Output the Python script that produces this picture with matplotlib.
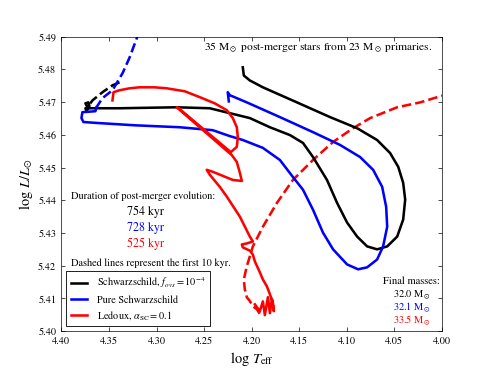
import matplotlib
matplotlib.use("Agg")
import matplotlib.pyplot as plt

plt.rcParams['font.family'] = ['STIXGeneral', 'DejaVu Serif']
plt.rcParams['mathtext.fontset'] = 'stix'

# ---- data (log Teff, log L) ----
black_dash_T = [4.3389, 4.3463, 4.3568, 4.3673, 4.3726]
black_dash_L = [5.4760, 5.4751, 5.4730, 5.4705, 5.4684]
black_T = [4.3726, 4.3747, 4.3716, 4.3705, 4.3737, 4.3747, 4.3684, 4.3389, 4.2788, 4.2440,
           4.2230, 4.2019, 4.1808, 4.1597, 4.1460, 4.1355, 4.1208, 4.1102, 4.0997, 4.0891,
           4.0786, 4.0681, 4.0575, 4.0470, 4.0407, 4.0386, 4.0407, 4.0459, 4.0544, 4.0681,
           4.0891, 4.1176, 4.1524, 4.1882, 4.2019, 4.2082, 4.2093]
black_L = [5.4684, 5.4696, 5.4699, 5.4687, 5.4672, 5.4681, 5.4681, 5.4681, 5.4684, 5.4681,
           5.4666, 5.4651, 5.4623, 5.4599, 5.4575, 5.4532, 5.4462, 5.4392, 5.4332, 5.4289,
           5.4259, 5.4250, 5.4259, 5.4289, 5.4341, 5.4402, 5.4453, 5.4502, 5.4544, 5.4584,
           5.4620, 5.4654, 5.4699, 5.4745, 5.4766, 5.4781, 5.4806]

blue_dash_T = [4.3178, 4.3283, 4.3357, 4.3463, 4.3568, 4.3631]
blue_dash_L = [5.4918, 5.4836, 5.4788, 5.4736, 5.4712, 5.4684]
blue_T = [4.3631, 4.3642, 4.3779, 4.3789, 4.3768, 4.3621, 4.3231, 4.2757, 4.2409, 4.2230,
          4.2093, 4.1882, 4.1703, 4.1566, 4.1460, 4.1355, 4.1250, 4.1144, 4.0997, 4.0881,
          4.0786, 4.0681, 4.0618, 4.0575, 4.0586, 4.0628, 4.0723, 4.0860, 4.1071, 4.1355,
          4.1703, 4.2051, 4.2230, 4.2251, 4.2240]
blue_L = [5.4684, 5.4672, 5.4669, 5.4651, 5.4639, 5.4636, 5.4629, 5.4623, 5.4614, 5.4596,
          5.4584, 5.4560, 5.4523, 5.4471, 5.4432, 5.4371, 5.4301, 5.4250, 5.4204, 5.4189,
          5.4195, 5.4219, 5.4259, 5.4319, 5.4380, 5.4441, 5.4493, 5.4532, 5.4569, 5.4608,
          5.4654, 5.4699, 5.4721, 5.4730, 5.4702]

red_dash_T = [3.9912, 4.0228, 4.0470, 4.0754, 4.0934, 4.1144, 4.1355, 4.1566, 4.1734, 4.1882,
              4.1987, 4.2051, 4.2082, 4.2072, 4.2051, 4.2019, 4.1987, 4.1945, 4.1893]
red_dash_L = [5.4727, 5.4699, 5.4684, 5.4651, 5.4620, 5.4578, 5.4523, 5.4462, 5.4392, 5.4319,
              5.4259, 5.4198, 5.4158, 5.4128, 5.4104, 5.4092, 5.4076, 5.4067, 5.4043]
red_T = [4.1966, 4.1914, 4.1882, 4.1861, 4.1829, 4.1808, 4.1787, 4.1766, 4.1777, 4.1808,
         4.1840, 4.1882, 4.1914, 4.1966, 4.1987, 4.2019, 4.2093, 4.2103, 4.2051, 4.1987,
         4.2019, 4.2124, 4.2261, 4.2335, 4.2440, 4.2472, 4.2409, 4.2198, 4.2103, 4.2124,
         4.2156, 4.2209, 4.2788, 4.2767, 4.2219, 4.2156, 4.2145, 4.2156, 4.2198, 4.2261,
         4.2388, 4.2546, 4.2704, 4.2894, 4.3020, 4.3178, 4.3283, 4.3389, 4.3452, 4.3463]
red_L = [5.4082, 5.4061, 5.4091, 5.4049, 5.4104, 5.4055, 5.4098, 5.4061, 5.4088, 5.4113,
         5.4137, 5.4158, 5.4180, 5.4213, 5.4234, 5.4246, 5.4256, 5.4265, 5.4268, 5.4274,
         5.4289, 5.4350, 5.4411, 5.4441, 5.4478, 5.4493, 5.4487, 5.4462, 5.4459, 5.4484,
         5.4517, 5.4538, 5.4684, 5.4681, 5.4547, 5.4563, 5.4593, 5.4623, 5.4651, 5.4675,
         5.4696, 5.4715, 5.4733, 5.4742, 5.4745, 5.4745, 5.4742, 5.4736, 5.4730, 5.4705]

labels = [r"Schwarzschild, $f_{ovs}=10^{-4}$", "Pure Schwarzschild", r"Ledoux, $\alpha_{\rm SC}=0.1$"]
colors = ['k', 'b', 'r']
durations = ["754 kyr", "728 kyr", "525 kyr"]
final_masses = [r"32.0 M$_\odot$", r"32.1 M$_\odot$", r"33.5 M$_\odot$"]
xticks = [4.40, 4.35, 4.30, 4.25, 4.20, 4.15, 4.10, 4.05, 4.00]
yticks = [5.40, 5.41, 5.42, 5.43, 5.44, 5.45, 5.46, 5.47, 5.48, 5.49]

fig = plt.figure(figsize=(8, 6), dpi=61.375)
ax = fig.add_axes([0.125, 0.1, 0.775, 0.8])

lw = 3
ax.plot(black_dash_T, black_dash_L, color='k', lw=lw, ls='--')
ax.plot(blue_dash_T, blue_dash_L, color='b', lw=lw, ls='--')
ax.plot(red_dash_T, red_dash_L, color='r', lw=lw, ls='--')
ax.plot(black_T, black_L, color='k', lw=lw, label=labels[0], solid_joinstyle='round')
ax.plot(blue_T, blue_L, color='b', lw=lw, label=labels[1], solid_joinstyle='round')
ax.plot(red_T, red_L, color='r', lw=lw, label=labels[2], solid_joinstyle='round')

ax.set_xlim(4.40, 4.00)
ax.set_ylim(5.40, 5.49)
ax.set_xticks(xticks)
ax.set_xticklabels([f"{v:.2f}" for v in xticks])
ax.set_yticks(yticks)
ax.set_yticklabels([f"{v:.2f}" for v in yticks])
ax.tick_params(direction='in', top=True, right=True, labelsize=12, length=5, pad=6)
ax.set_xlabel(r"$\log\,T_{\rm eff}$", fontsize=17)
ax.set_ylabel(r"$\log\,L/L_{\odot}$", fontsize=17)

ax.text(0.976, 0.963, r"35 M$_\odot$ post-merger stars from 23 M$_\odot$ primaries.",
        transform=ax.transAxes, ha='right', va='center', fontsize=13.5)
ax.text(0.025, 0.46, "Duration of post-merger evolution:", transform=ax.transAxes,
        ha='left', va='center', fontsize=12)
for i, (d, c) in enumerate(zip(durations, colors)):
    ax.text(0.221, 0.405 - i * 0.054, d, transform=ax.transAxes, ha='center', va='center',
            fontsize=14, color=c)
ax.text(0.025, 0.23, "Dashed lines represent the first 10 kyr.", transform=ax.transAxes,
        ha='left', va='center', fontsize=12)

ax.text(0.921, 0.169, "Final masses:", transform=ax.transAxes, ha='center', va='center', fontsize=12.5)
for i, (m, c) in enumerate(zip(final_masses, colors)):
    ax.text(0.921, 0.122 - i * 0.044, m, transform=ax.transAxes, ha='center', va='center',
            fontsize=12, color=c)

leg = ax.legend(loc='lower left', fontsize=12, handlelength=1.6, handletextpad=1.0,
                fancybox=False, framealpha=1, edgecolor='k', borderaxespad=0.5,
                labelspacing=0.45)
leg.get_frame().set_linewidth(1)

fig.savefig("out.png", dpi=61.375)
